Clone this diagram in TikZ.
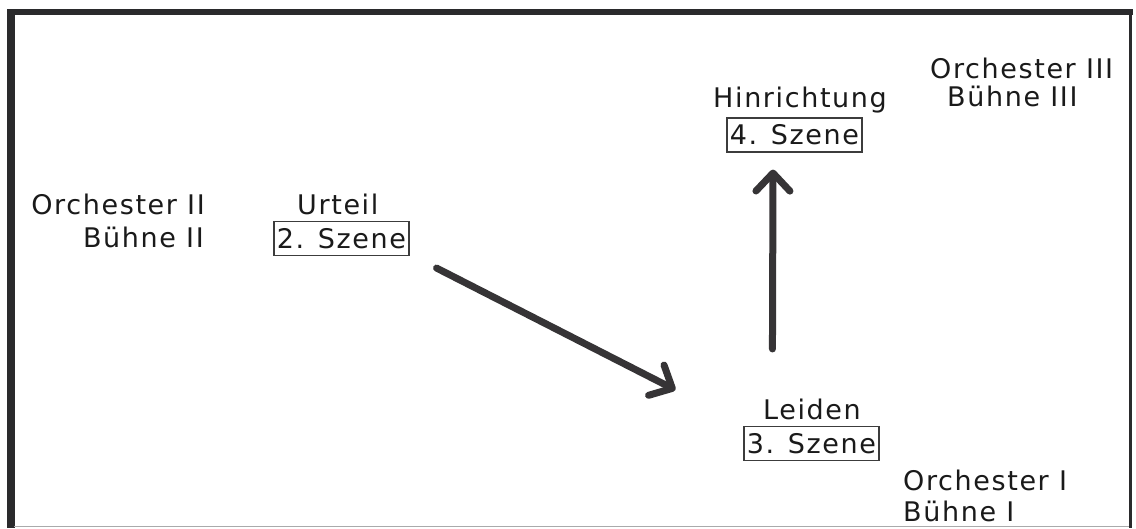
\documentclass[tikz,border=0pt]{standalone}
\usepackage{fontspec}
\setmainfont{DejaVu Sans}[LetterSpace=6]
\usetikzlibrary{arrows.meta,calc}
\definecolor{ink}{HTML}{1A1A1A}
\definecolor{boxline}{HTML}{3C3C3C}
\definecolor{pen}{HTML}{363436}
\definecolor{framec}{HTML}{2A2A2C}
\begin{document}
\begin{tikzpicture}[x=1pt,y=-1pt,
  lbl/.style={inner sep=0pt, text=ink, font=\fontsize{27}{32}\selectfont},
  scenebox/.style={draw=boxline, line width=1.1pt, inner sep=0pt,
    minimum width=135pt, minimum height=34pt, text=ink,
    font=\fontsize{27}{32}\selectfont},
  flow/.style={draw=pen, line width=7pt, line cap=round, line join=round,
    -{Straight Barb[length=18pt,width=34pt,round]}}]
\useasboundingbox (0,0) rectangle (1136,528);
% frame
\fill[white] (0,0) rectangle (1136,528);
\draw[framec, line width=6pt] (7,12) -- (1133,12);
\draw[framec, line width=7.5pt] (11,9) -- (11,528);
\draw[framec, line width=3.5pt] (1130.5,10) -- (1130.5,528);
\draw[framec!40, line width=1.5pt] (14,526.5) -- (1129,526.5);

% stages and orchestras
\node[lbl, anchor=base west] (o3) at (930,78) {Orchester III};
\node[lbl, anchor=base west] (b3) at (947,106) {Bühne III};
\node[lbl, anchor=base east] (o2) at (205,214) {Orchester II};
\node[lbl, anchor=base east] (b2) at (204,247) {Bühne II};
\node[lbl, anchor=base west] (o1) at (903,490) {Orchester I};
\node[lbl, anchor=base west] (b1) at (903,521) {Bühne I};

% scenes
\node[lbl, anchor=base west] (t2) at (297,214) {Urteil};
\node[scenebox] (s2) at (341.5,238.5) {2. Szene};
\node[lbl, anchor=base west] (t3) at (763,419) {Leiden};
\node[scenebox] (s3) at (811.5,443.5) {3. Szene};
\node[lbl, anchor=base west] (t4) at (713,107) {Hinrichtung};
\node[scenebox] (s4) at (794.5,135) {4. Szene};

% connectors
\coordinate (d1) at ($(s2.south east)+(27,12)$);
\coordinate (d2) at ($(s3.north west)+(-68,-36)$);
\coordinate (v1) at ($(s3.north west)+(29,-77)$);
\coordinate (v2) at ($(s4.south)+(-21.5,17)$);
\draw[flow] (d1) -- (d2);
\draw[flow] (v1) -- (v2);
\end{tikzpicture}
\end{document}
